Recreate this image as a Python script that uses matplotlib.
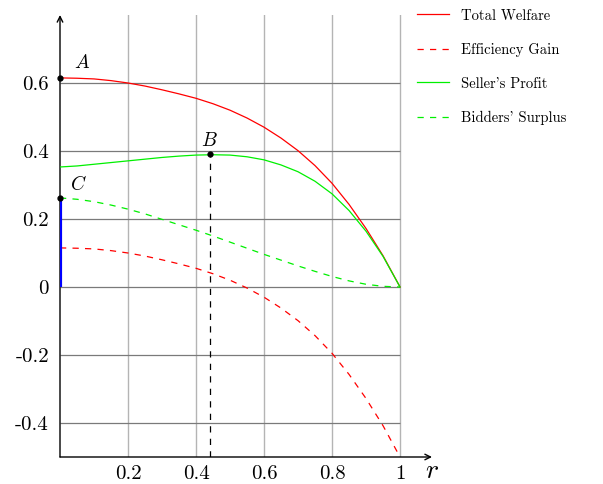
import matplotlib
matplotlib.use("Agg")
import matplotlib.pyplot as plt

plt.rcParams["font.family"] = ["cmr10", "DejaVu Serif"]
plt.rcParams["mathtext.fontset"] = "cm"
plt.rcParams["axes.unicode_minus"] = False

# reserve price r and the four curves
r = [0.0, 0.05, 0.1, 0.15, 0.2, 0.25, 0.3, 0.35, 0.4, 0.45, 0.5,
     0.55, 0.6, 0.65, 0.7, 0.75, 0.8, 0.85, 0.9, 0.95, 1.0]
total_welfare = [0.615, 0.614, 0.612, 0.607, 0.600, 0.591, 0.580, 0.568, 0.555, 0.539, 0.520,
                 0.497, 0.470, 0.438, 0.401, 0.357, 0.305, 0.243, 0.172, 0.092, 0.0]
efficiency_gain = [0.115, 0.114, 0.112, 0.107, 0.100, 0.091, 0.080, 0.068, 0.055, 0.039, 0.020,
                   -0.003, -0.030, -0.062, -0.099, -0.143, -0.195, -0.257, -0.328, -0.408, -0.500]
seller_profit = [0.353, 0.356, 0.361, 0.366, 0.371, 0.376, 0.381, 0.385, 0.388, 0.389, 0.388,
                 0.383, 0.374, 0.359, 0.339, 0.311, 0.274, 0.225, 0.164, 0.090, 0.0]
bidders_surplus = [0.262, 0.258, 0.251, 0.241, 0.229, 0.215, 0.199, 0.183, 0.167, 0.150, 0.132,
                   0.114, 0.096, 0.079, 0.062, 0.046, 0.031, 0.018, 0.008, 0.002, 0.0]

point_a = (0.0, 0.615)
point_b = (0.44, 0.39)
point_c = (0.0, 0.262)

x_ticks = [0.2, 0.4, 0.6, 0.8, 1.0]
x_labels = ["0.2", "0.4", "0.6", "0.8", "1"]
y_ticks = [-0.4, -0.2, 0.0, 0.2, 0.4, 0.6]
y_labels = ["-0.4", "-0.2", "0", "0.2", "0.4", "0.6"]

##############################################################################################

W, H = 603, 484
fig = plt.figure(figsize=(W / 100, H / 100), dpi=100)
ax = fig.add_axes([60 / W, (H - 457) / H, (432 - 60) / W, (457 - 15) / H])
xmax, ymin, ymax = 1.094, -0.5, 0.8
ax.set_xlim(0, xmax)
ax.set_ylim(ymin, ymax)
for s in ax.spines.values():
    s.set_visible(False)

# grid
for xv in x_ticks:
    ax.plot([xv, xv], [ymin, ymax], color="#b4b4b4", lw=1.0, zorder=1)
ax.hlines(y_ticks, 0, 1, color="#7a7a7a", lw=0.9, zorder=1)

# axes with arrows
ax.annotate("", xy=(xmax, ymin), xytext=(0, ymin), annotation_clip=False,
            arrowprops=dict(arrowstyle="->", lw=1.0, color="black", shrinkA=0, shrinkB=0))
ax.annotate("", xy=(0, ymax), xytext=(0, ymin), annotation_clip=False,
            arrowprops=dict(arrowstyle="->", lw=1.0, color="black", shrinkA=0, shrinkB=0))

ax.plot(r, total_welfare, color="#ff0000", lw=0.9, label="Total Welfare", zorder=3)
ax.plot(r, efficiency_gain, color="#ff0000", lw=0.9, ls=(0, (5, 5)), label="Efficiency Gain", zorder=3)
ax.plot(r, seller_profit, color="#00f000", lw=0.9, label="Seller's Profit", zorder=3)
ax.plot(r, bidders_surplus, color="#00f000", lw=0.9, ls=(0, (5, 5)), label="Bidders' Surplus", zorder=3)

# special points
ax.plot([0, 0], [0, point_c[1]], color="#0000ff", lw=3, zorder=4, solid_capstyle="butt")
ax.plot([point_b[0], point_b[0]], [ymin, point_b[1]], color="black", lw=0.9, ls=(0, (5, 5)), zorder=3)
ax.plot([point_a[0], point_b[0], point_c[0]], [point_a[1], point_b[1], point_c[1]],
        "o", color="black", ms=3.5, zorder=5, clip_on=False)
ax.text(0.04, 0.645, "$A$", fontsize=14)
ax.text(point_b[0], point_b[1] + 0.025, "$B$", fontsize=14, ha="center")
ax.text(0.03, 0.285, "$C$", fontsize=14)
ax.text(1.073, -0.562, "$r$", fontsize=20, va="baseline")

ax.set_xticks(x_ticks)
ax.set_xticklabels(x_labels)
ax.set_yticks(y_ticks)
ax.set_yticklabels(y_labels)
ax.tick_params(length=0, labelsize=15)
ax.tick_params(axis="x", pad=6)
ax.tick_params(axis="y", pad=8)

ax.legend(loc="upper left", bbox_to_anchor=(411 / W, 1 - 3 / H), bbox_transform=fig.transFigure,
          frameon=False, fontsize=10.5, handlelength=2.2, labelspacing=1.38, handletextpad=0.8,
          borderaxespad=0)

fig.savefig("out.png", dpi=100)
